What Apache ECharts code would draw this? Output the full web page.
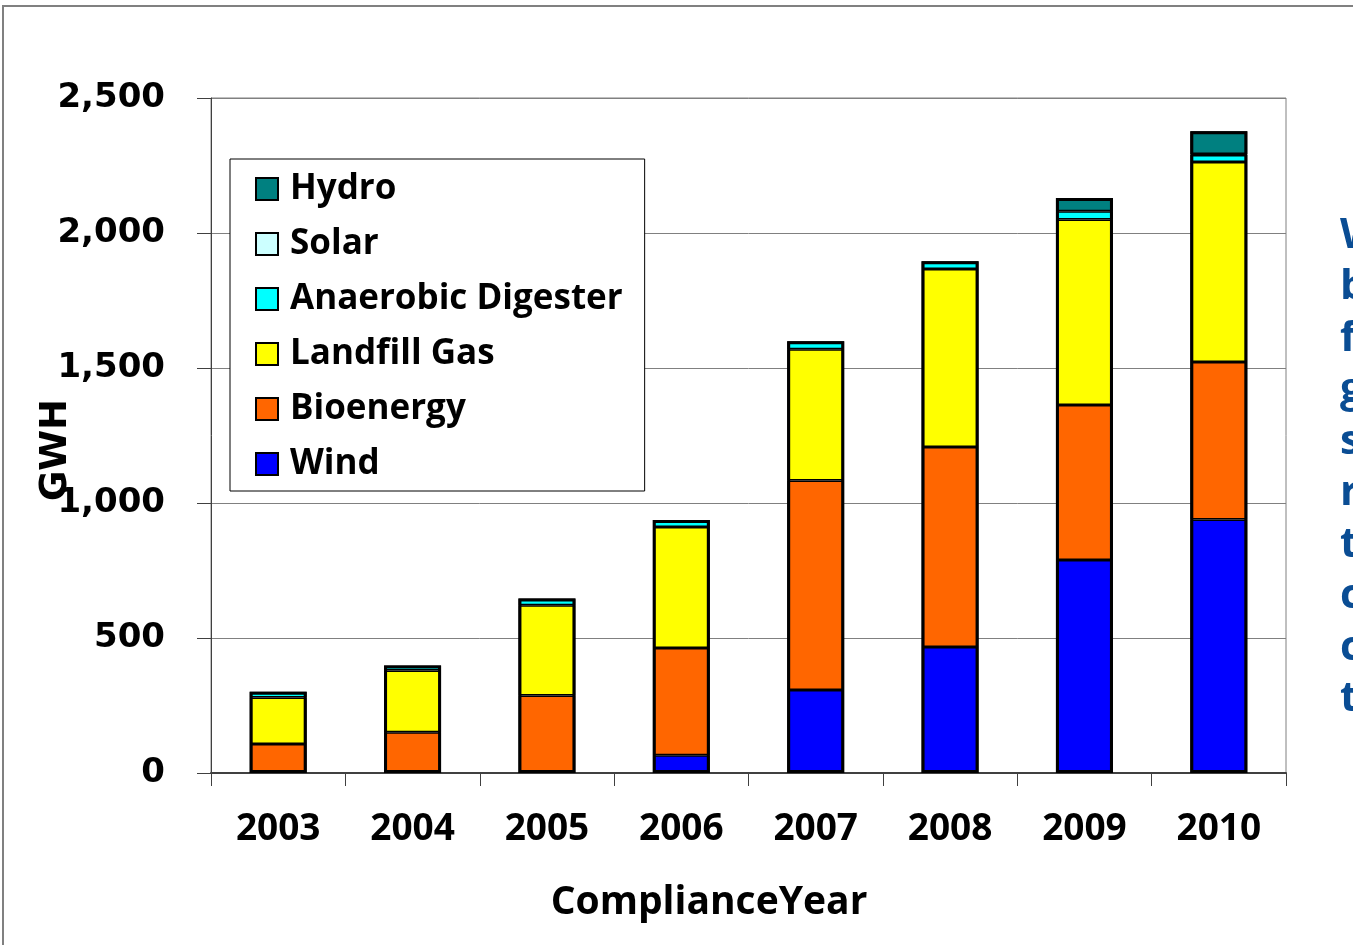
<!DOCTYPE html>
<html>
<head>
<meta charset="utf-8">
<script src="https://cdn.jsdelivr.net/npm/echarts@6/dist/echarts.min.js"></script>
<style>
html,body{margin:0;padding:0;background:#fff;}
#chart{width:1353px;height:945px;}
</style>
</head>
<body>
<div id="chart"></div>
<script>
const years = ['2003','2004','2005','2006','2007','2008','2009','2010'];
const wind      = [null, null, null, 66, 307, 467, 789, 939];
const bioenergy = [107, 151, 287, 397, 776, 740, 574, 583];
const landfill  = [173, 229, 334, 448, 486, 660, 687, 741];
const anaerobic = [21, 18, 25, 26, 30, 28, 31, 26];
const solar     = [null, null, null, null, null, null, null, 4];
const hydro     = [null, null, null, null, null, null, 49, 84];
const yTicks = [0, 500, 1000, 1500, 2000, 2500];
const sideText = ['W','b','f','g','s','r','t','c','c','t'];

const legendOrder = ['Hydro','Solar','Anaerobic Digester','Landfill Gas','Bioenergy','Wind'];
const allSeries = [wind, bioenergy, landfill, anaerobic, solar, hydro];
const totals = years.map(function(_, i){
  return allSeries.reduce(function(s, arr){ return s + (arr[i] || 0); }, 0);
});

function mk(name, data, color){
  return {
    name: name, type: 'bar', stack: 'total', data: data, barWidth: 57, barGap: '-100%',
    itemStyle: {color: color, borderColor: '#000', borderWidth: 1.5},
    emphasis: {disabled: true}
  };
}

const chart = echarts.init(document.getElementById('chart'));
chart.setOption({
  animation: false,
  backgroundColor: '#fff',
  grid: {left: 211, right: 67, top: 98, bottom: 172, show: true, borderColor: '#808080', borderWidth: 1, containLabel: false},
  legend: {
    data: legendOrder, orient: 'vertical', left: 230, top: 159,
    padding: [10, 22, 7, 25],
    backgroundColor: '#fff', borderColor: '#000', borderWidth: 1,
    itemWidth: 22, itemHeight: 22, itemGap: 15,
    icon: 'rect',
    itemStyle: {borderWidth: 2, borderColor: '#000'},
    textStyle: {fontFamily: 'Open Sans', fontWeight: 'bold', fontSize: 35, lineHeight: 40, color: '#000', padding: [0,0,0,7]},
    selectedMode: false
  },
  xAxis: {
    type: 'category', data: years,
    name: 'ComplianceYear', nameLocation: 'middle', nameGap: 110, nameMoveOverlap: false,
    nameTextStyle: {fontFamily: 'Open Sans', fontWeight: 'bold', fontSize: 39, color: '#000', padding: [0, 79, 0, 0]},
    axisLine: {lineStyle: {color: '#404040', width: 2}},
    axisTick: {show: true, alignWithLabel: false, length: 13, lineStyle: {color: '#404040', width: 1}},
    axisLabel: {fontFamily: 'Open Sans', fontWeight: 'bold', fontSize: 37, color: '#000', margin: 38}
  },
  yAxis: {
    type: 'value', min: 0, max: 2500, interval: 500,
    name: 'GWH', nameLocation: 'middle', nameGap: 136, nameRotate: 90, nameMoveOverlap: false,
    nameTextStyle: {fontFamily: 'DejaVu Sans', fontWeight: 'bold', fontSize: 37, color: '#000', padding: [0, 29, 0, 0]},
    axisLine: {show: true, lineStyle: {color: '#404040', width: 1}},
    axisTick: {show: true, inside: false, length: 14, lineStyle: {color: '#404040'}},
    splitLine: {lineStyle: {color: '#808080', width: 1}},
    axisLabel: {
      fontFamily: 'DejaVu Sans', fontWeight: 'bold', fontSize: 34, color: '#000', margin: 46, padding: [5, 0, 0, 0],
      formatter: function(v){ return yTicks.indexOf(v) >= 0 ? v.toLocaleString('en-US') : ''; }
    }
  },
  graphic: [
    {type: 'rect', shape: {x: 3, y: 6, width: 1500, height: 1200}, style: {fill: 'none', stroke: '#808080', lineWidth: 2}, silent: true, z: -1},
    {type: 'text', x: 1340, y: 210, silent: true,
     style: {text: sideText.join('\n'), fill: '#0a4d94', font: 'bold 42px "Open Sans"', lineHeight: 51.5}}
  ],
  series: [
    mk('Wind', wind, '#0000FF'),
    mk('Bioenergy', bioenergy, '#FF6600'),
    mk('Landfill Gas', landfill, '#FFFF00'),
    mk('Anaerobic Digester', anaerobic, '#00FFFF'),
    mk('Solar', solar, '#CCFFFF'),
    mk('Hydro', hydro, '#008080'),
    {
      name: 'outline', type: 'bar', data: totals, barWidth: 57, barGap: '-100%', z: 3, silent: true,
      itemStyle: {color: 'rgba(0,0,0,0)', borderColor: '#000', borderWidth: 3},
      emphasis: {disabled: true}
    }
  ]
});
</script>
</body>
</html>
